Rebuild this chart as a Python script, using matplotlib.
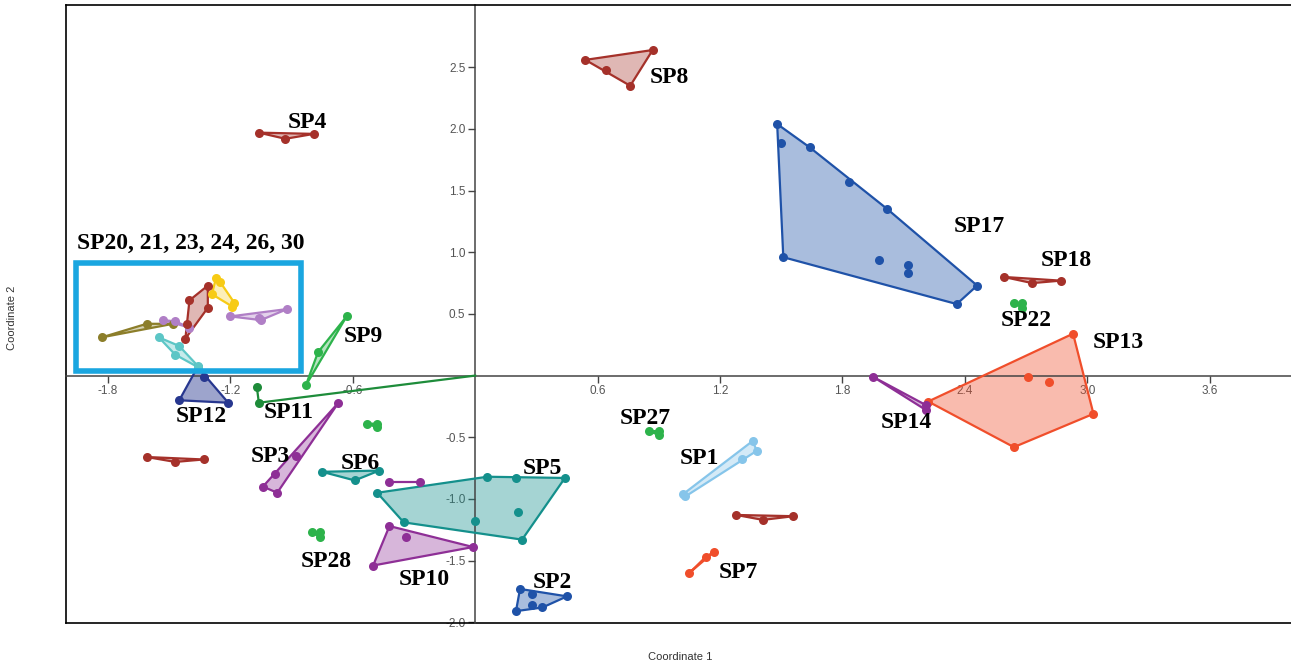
import numpy as np
import matplotlib.pyplot as plt
from matplotlib.patches import Polygon, Rectangle
from matplotlib.lines import Line2D

# ---- data: points per group (Coordinate 1, Coordinate 2) ----
sp8_x = [0.54, 0.64, 0.76, 0.87]
sp8_y = [2.56, 2.48, 2.35, 2.64]
sp4_x = [-1.06, -0.93, -0.79]
sp4_y = [1.97, 1.92, 1.96]
sp17_x = [1.48, 1.50, 1.64, 1.83, 2.02, 1.51, 1.98, 2.12, 2.12, 2.46, 2.36]
sp17_y = [2.04, 1.89, 1.85, 1.57, 1.35, 0.96, 0.94, 0.90, 0.83, 0.73, 0.58]
sp18_x = [2.59, 2.73, 2.87]
sp18_y = [0.80, 0.75, 0.77]
sp22_x = [2.64, 2.68, 2.68]
sp22_y = [0.59, 0.59, 0.55]
sp13_x = [2.93, 3.03, 2.64, 2.22, 2.71, 2.81]
sp13_y = [0.34, -0.31, -0.58, -0.21, -0.01, -0.05]
sp14_x = [1.95, 2.21, 2.21]
sp14_y = [-0.01, -0.24, -0.28]
sp27_x = [0.85, 0.90, 0.90]
sp27_y = [-0.45, -0.45, -0.48]
sp1_x = [1.36, 1.38, 1.31, 1.03, 1.02]
sp1_y = [-0.53, -0.61, -0.68, -0.98, -0.96]
red_mid_x = [1.28, 1.41, 1.56]
red_mid_y = [-1.13, -1.17, -1.14]
sp7_x = [1.05, 1.13, 1.17]
sp7_y = [-1.60, -1.47, -1.43]
sp2_x = [0.22, 0.28, 0.45, 0.33, 0.28, 0.20]
sp2_y = [-1.73, -1.77, -1.79, -1.88, -1.86, -1.91]
sp5_x = [-0.48, -0.35, 0.06, 0.20, 0.44, 0.23, 0.21, 0.00]
sp5_y = [-0.95, -1.19, -0.82, -0.83, -0.83, -1.33, -1.11, -1.18]
sp6_x = [-0.75, -0.59, -0.47]
sp6_y = [-0.78, -0.85, -0.77]
purple_pair_x = [-0.42, -0.27]
purple_pair_y = [-0.86, -0.86]
sp3_x = [-0.67, -0.88, -0.98, -1.04, -0.97]
sp3_y = [-0.22, -0.65, -0.80, -0.90, -0.95]
sp10_x = [-0.42, -0.34, -0.01, -0.50]
sp10_y = [-1.22, -1.31, -1.39, -1.54]
sp28_x = [-0.80, -0.76, -0.76]
sp28_y = [-1.27, -1.27, -1.31]
green_pair_x = [-0.53, -0.48, -0.48]
green_pair_y = [-0.39, -0.39, -0.42]
sp11_x = [-1.07, -1.06, 0.0]
sp11_y = [-0.09, -0.22, 0.0]
sp9_x = [-0.63, -0.77, -0.83]
sp9_y = [0.48, 0.19, -0.08]
sp12_x = [-1.45, -1.21, -1.33, -1.36]
sp12_y = [-0.20, -0.22, -0.01, 0.07]
red_left_x = [-1.61, -1.47, -1.33]
red_left_y = [-0.66, -0.70, -0.68]
olive_x = [-1.83, -1.61, -1.48]
olive_y = [0.31, 0.42, 0.42]
lilac_a_x = [-1.53, -1.47, -1.40]
lilac_a_y = [0.45, 0.44, 0.39]
lilac_b_x = [-1.20, -1.06, -1.05, -0.92]
lilac_b_y = [0.48, 0.47, 0.45, 0.54]
red_box_x = [-1.31, -1.40, -1.31, -1.41, -1.42]
red_box_y = [0.73, 0.61, 0.55, 0.42, 0.30]
yellow_x = [-1.27, -1.25, -1.29, -1.18, -1.19]
yellow_y = [0.79, 0.76, 0.66, 0.59, 0.56]
cyan_x = [-1.55, -1.45, -1.47, -1.36, -1.36]
cyan_y = [0.31, 0.24, 0.17, 0.08, 0.07]

x_ticks = [-1.8, -1.2, -0.6, 0.6, 1.2, 1.8, 2.4, 3.0, 3.6]
y_ticks = [-2.0, -1.5, -1.0, -0.5, 0.5, 1.0, 1.5, 2.0, 2.5]
box_title = "SP20, 21, 23, 24, 26, 30"

DRED = '#A5312A'
BLUE = '#1F52A8'
NAVY = '#27378F'
TEAL = '#14908C'
PURP = '#8E2F96'
GREEN = '#2DB34B'
DGREEN = '#1E8C3A'
ORNG = '#F04E2B'
LBLUE = '#86C5EA'
OLIVE = '#8C7E2A'
LILAC = '#B07FC6'
YELL = '#F7CB15'
CYAN = '#5CC6C6'


def hull(xs, ys):
    pts = sorted(set(zip(xs, ys)))
    if len(pts) < 3:
        return pts

    def cross(o, a, b):
        return (a[0] - o[0]) * (b[1] - o[1]) - (a[1] - o[1]) * (b[0] - o[0])
    lower, upper = [], []
    for p in pts:
        while len(lower) >= 2 and cross(lower[-2], lower[-1], p) <= 0:
            lower.pop()
        lower.append(p)
    for p in reversed(pts):
        while len(upper) >= 2 and cross(upper[-2], upper[-1], p) <= 0:
            upper.pop()
        upper.append(p)
    return lower[:-1] + upper[:-1]


fig = plt.figure(figsize=(12.91, 6.64), dpi=100)
ax = fig.add_axes([66 / 1291, 41 / 664, 1225 / 1291, 618 / 664])
ax.set_xlim(-2.005, 3.998)
ax.set_ylim(-2.006, 3.005)

groups = [
    (sp8_x, sp8_y, DRED, 0.35), (sp4_x, sp4_y, DRED, 0.35),
    (sp17_x, sp17_y, BLUE, 0.38), (sp18_x, sp18_y, DRED, 0.35),
    (sp22_x, sp22_y, GREEN, 0.35), (sp13_x, sp13_y, ORNG, 0.38),
    (sp14_x, sp14_y, PURP, 0.35), (sp27_x, sp27_y, GREEN, 0.35),
    (sp1_x, sp1_y, LBLUE, 0.35), (red_mid_x, red_mid_y, DRED, 0.35),
    (sp7_x, sp7_y, ORNG, 0.35), (sp2_x, sp2_y, BLUE, 0.38),
    (sp5_x, sp5_y, TEAL, 0.38), (sp6_x, sp6_y, TEAL, 0.38),
    (purple_pair_x, purple_pair_y, PURP, 0.35), (sp3_x, sp3_y, PURP, 0.35),
    (sp10_x, sp10_y, PURP, 0.35), (sp28_x, sp28_y, GREEN, 0.35),
    (green_pair_x, green_pair_y, GREEN, 0.35), (sp9_x, sp9_y, GREEN, 0.35),
    (sp12_x, sp12_y, NAVY, 0.45), (red_left_x, red_left_y, DRED, 0.35),
    (olive_x, olive_y, OLIVE, 0.35), (lilac_a_x, lilac_a_y, LILAC, 0.35),
    (lilac_b_x, lilac_b_y, LILAC, 0.35), (red_box_x, red_box_y, DRED, 0.35),
    (yellow_x, yellow_y, YELL, 0.3), (cyan_x, cyan_y, CYAN, 0.35),
]

for gx, gy, c, a in groups:
    h = hull(gx, gy)
    if len(h) >= 3:
        ax.add_patch(Polygon(h, closed=True, facecolor=c, alpha=a,
                             edgecolor='none', zorder=2))
        ax.add_patch(Polygon(h, closed=True, facecolor='none',
                             edgecolor=c, lw=1.6, zorder=3))
    else:
        hx, hy = zip(*h)
        ax.plot(hx, hy, color=c, lw=1.6, zorder=3)
    ax.plot(gx, gy, 'o', color=c, ms=6.5, mew=0, zorder=4)

# SP11: path through its points, last vertex lies on the origin
ax.plot(sp11_x, sp11_y, color=DGREEN, lw=1.6, zorder=3)
ax.plot(sp11_x[:2], sp11_y[:2], 'o', color=DGREEN, ms=6.5, mew=0, zorder=4)

# highlight box
ax.add_patch(Rectangle((-1.955, 0.035), 1.10, 0.875, fill=False,
                       edgecolor='#1AA6E0', lw=4, zorder=5))

labels = [
    ('SP8', 0.95, 2.42), ('SP4', -0.82, 2.05), ('SP17', 2.47, 1.21),
    ('SP18', 2.895, 0.93), ('SP22', 2.70, 0.45), ('SP13', 3.15, 0.27),
    ('SP14', 2.115, -0.38), ('SP27', 0.836, -0.35), ('SP1', 1.10, -0.67),
    ('SP7', 1.29, -1.60), ('SP2', 0.38, -1.68), ('SP5', 0.33, -0.75),
    ('SP6', -0.565, -0.71), ('SP3', -1.005, -0.66), ('SP11', -0.913, -0.30),
    ('SP28', -0.73, -1.51), ('SP10', -0.25, -1.65), ('SP9', -0.55, 0.32),
    ('SP12', -1.34, -0.33), (box_title, -1.395, 1.07),
]
for t, lx, ly in labels:
    ax.text(lx, ly, t, ha='center', va='center', fontsize=17,
            fontweight='bold', family='Liberation Serif', color='black',
            zorder=6)

# centred axes
for s in ['left', 'bottom']:
    ax.spines[s].set_position(('data', 0))
    ax.spines[s].set_color('#444444')
    ax.spines[s].set_linewidth(1.1)
ax.spines['right'].set_visible(False)
ax.spines['top'].set_color('black')
ax.spines['top'].set_linewidth(1.2)
ax.add_line(Line2D([0, 0], [0, 1], transform=ax.transAxes, color='black',
                   lw=1.2, clip_on=False))
ax.add_line(Line2D([0, 1], [0, 0], transform=ax.transAxes, color='black',
                   lw=1.2, clip_on=False))

ax.set_xticks(x_ticks)
ax.set_yticks(y_ticks)
ax.set_xticklabels([f'{v:.1f}' for v in x_ticks])
ax.set_yticklabels([f'{v:.1f}' for v in y_ticks])
ax.tick_params(direction='out', length=5, width=1, color='#444444',
               labelsize=8.5, labelcolor='#555555', pad=2)
for lab in ax.get_xticklabels() + ax.get_yticklabels():
    lab.set_family('Liberation Sans')

fig.text(680 / 1291, 1 - 657 / 664, 'Coordinate 1', ha='center', va='center',
         fontsize=8, color='#333333', family='Liberation Sans')
fig.text(12 / 1291, 1 - 318 / 664, 'Coordinate 2', ha='center', va='center',
         rotation=90, fontsize=8, color='#333333', family='Liberation Sans')

fig.savefig('out.png', dpi=100, facecolor='white')
